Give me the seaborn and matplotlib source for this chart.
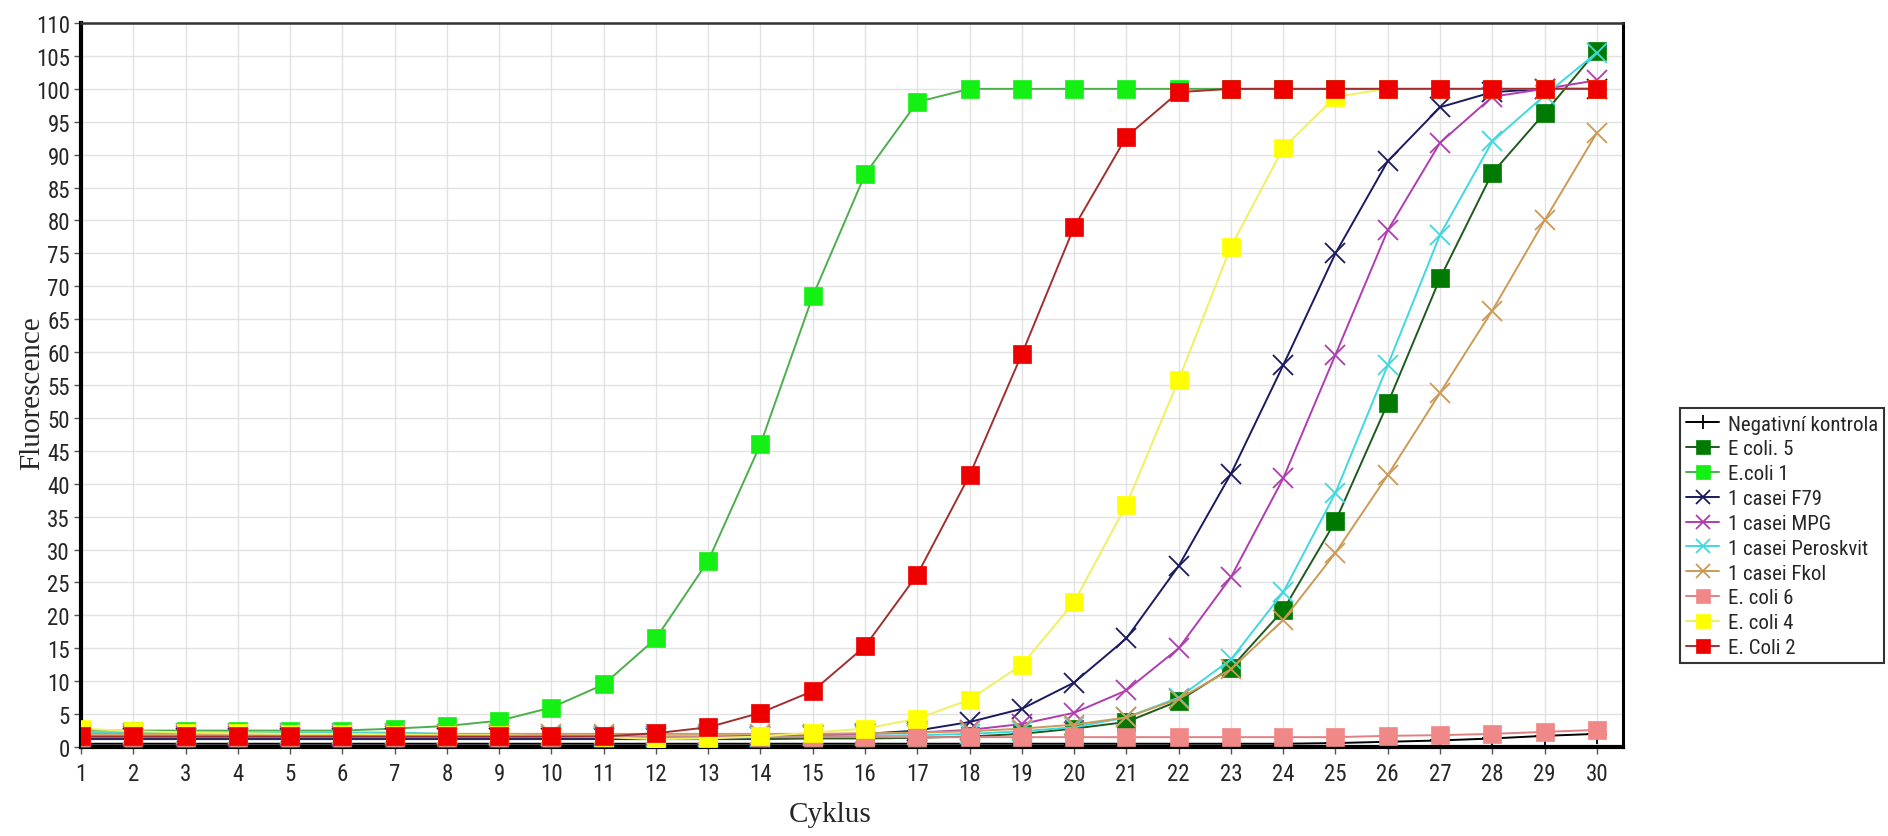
import numpy as np
import pandas as pd
import seaborn as sns
import matplotlib
matplotlib.use('Agg')
import matplotlib.pyplot as plt
from matplotlib import font_manager

sns.set_style('white')

# uzke pismo jako v originalu, pokud je k dispozici
dostupne = {f.name for f in font_manager.fontManager.ttflist}
uzke = [n for n in ['Liberation Sans Narrow', 'Roboto Condensed', 'Open Sans Condensed'] if n in dostupne]
if uzke:
    plt.rcParams['font.family'] = [uzke[0], 'DejaVu Sans']
    vel_ticku, vel_legendy = 16.5, 15
else:
    plt.rcParams['font.family'] = ['Liberation Sans', 'DejaVu Sans']
    vel_ticku, vel_legendy = 14.5, 12.5

cyklus = list(range(1, 31))

negativni = [0.5, 0.5, 0.5, 0.5, 0.5, 0.5, 0.5, 0.5, 0.5, 0.5, 0.5, 0.5, 0.5, 0.5, 0.5,
             0.5, 0.5, 0.5, 0.5, 0.5, 0.5, 0.5, 0.5, 0.5, 0.6, 0.8, 1.0, 1.3, 1.7, 2.0]
ecoli5 = [1.2, 1.2, 1.2, 1.2, 1.2, 1.2, 1.2, 1.2, 1.2, 1.2, 1.2, 1.2, 1.2, 1.2, 1.3,
          1.3, 1.4, 1.6, 2.0, 2.8, 3.8, 7.0, 12.0, 20.8, 34.3, 52.2, 71.2, 87.2, 96.3, 105.8]
ecoli1 = [2.5, 2.5, 2.5, 2.5, 2.5, 2.5, 2.8, 3.2, 4.0, 6.0, 9.5, 16.5, 28.3, 46.0, 68.5,
          87.0, 98.0, 100, 100, 100, 100, 100, 100, 100, 100, 100, 100, 100, 100, 100]
casei_f79 = [1.3, 1.3, 1.3, 1.3, 1.3, 1.3, 1.3, 1.3, 1.3, 1.3, 1.3, 1.3, 1.4, 1.5, 1.7,
             2.0, 2.5, 3.8, 5.8, 9.8, 16.5, 27.5, 41.5, 58.0, 75.0, 89.0, 97.2, 99.5, 100, 100]
casei_mpg = [1.6, 1.6, 1.6, 1.6, 1.6, 1.6, 1.6, 1.6, 1.6, 1.6, 1.6, 1.6, 1.6, 1.7, 1.8,
             2.0, 2.2, 2.6, 3.5, 5.2, 8.6, 15.0, 25.8, 40.8, 59.6, 78.5, 91.8, 98.8, 100, 101.3]
casei_perosk = [2.2, 2.2, 2.2, 2.2, 2.2, 2.2, 2.2, 2.0, 1.8, 1.6, 1.5, 1.5, 1.5, 1.5, 1.6,
                1.7, 1.8, 2.0, 2.4, 3.0, 4.5, 7.5, 13.3, 23.5, 38.6, 58.0, 77.8, 92.0, 99.0, 105.5]
casei_fkol = [2.0, 2.0, 2.0, 2.0, 2.0, 2.0, 2.0, 2.0, 2.0, 2.0, 2.0, 2.0, 2.0, 2.0, 2.0,
              2.1, 2.2, 2.4, 2.8, 3.4, 4.5, 7.3, 11.8, 19.3, 29.5, 41.3, 53.8, 66.3, 80.0, 93.3]
ecoli6 = [1.5, 1.5, 1.5, 1.5, 1.5, 1.5, 1.5, 1.5, 1.5, 1.5, 1.5, 1.5, 1.5, 1.5, 1.5,
          1.5, 1.5, 1.5, 1.5, 1.5, 1.5, 1.5, 1.5, 1.5, 1.5, 1.7, 1.8, 2.0, 2.3, 2.6]
ecoli4 = [2.8, 2.4, 2.2, 2.1, 2.0, 2.0, 1.9, 1.8, 1.8, 1.6, 1.5, 1.2, 1.3, 1.6, 2.2,
          2.8, 4.3, 7.2, 12.5, 22.0, 36.8, 55.8, 76.0, 91.0, 98.8, 100, 100, 100, 100, 100]
ecoli2 = [1.6, 1.6, 1.6, 1.6, 1.6, 1.6, 1.6, 1.6, 1.6, 1.6, 1.6, 2.1, 3.0, 5.2, 8.5,
          15.3, 26.2, 41.3, 59.7, 79.0, 92.7, 99.5, 100, 100, 100, 100, 100, 100, 100, 100]

serie = [
    ('Negativní kontrola', negativni, '#000000', '#000000', '+'),
    ('E coli. 5', ecoli5, '#1e5a1e', '#007a00', 's'),
    ('E.coli 1', ecoli1, '#4caf4c', '#14f014', 's'),
    ('1 casei F79', casei_f79, '#1a1a60', '#1a1a60', 'x'),
    ('1 casei MPG', casei_mpg, '#b03cb0', '#b03cb0', 'x'),
    ('1 casei Peroskvit', casei_perosk, '#40d8e0', '#40d8e0', 'x'),
    ('1 casei Fkol', casei_fkol, '#cc9a55', '#cc9a55', 'x'),
    ('E. coli 6', ecoli6, '#e08080', '#f08888', 's'),
    ('E. coli 4', ecoli4, '#f0f060', '#ffff00', 's'),
    ('E. Coli 2', ecoli2, '#a03030', '#ee0000', 's'),
]

fig = plt.figure(figsize=(18.88, 8.37), dpi=100)
ax = fig.add_axes([0.0429, 0.1063, 0.8167, 0.865])

for i, (nazev, hodnoty, barva_cary, barva_znacky, znacka) in enumerate(serie):
    if znacka == 's':
        kw = dict(marker='s', markersize=13.5, markerfacecolor=barva_znacky,
                  markeredgecolor=barva_znacky, markeredgewidth=0.5)
    elif znacka == 'x':
        kw = dict(marker='x', markersize=15, markeredgecolor=barva_znacky,
                  markeredgewidth=1.3)
    else:
        kw = dict(marker='+', markersize=14, markeredgecolor=barva_znacky,
                  markeredgewidth=1.3)
    sns.lineplot(x=cyklus, y=hodnoty, ax=ax, color=barva_cary, linewidth=1.4,
                 label=nazev, zorder=3 + i, **kw)

ax.set_xlim(1, 30.5)
ax.set_ylim(0, 110)
ax.set_xticks(cyklus)
ax.set_yticks(np.arange(0, 111, 5))
ax.grid(True, color='#e2e2e2', linewidth=1.0)
ax.set_axisbelow(True)
ax.tick_params(axis='both', direction='out', length=5, width=1, color='#555555',
               labelsize=vel_ticku, bottom=True, left=True)
ax.tick_params(axis='x', pad=6)
ax.tick_params(axis='y', pad=3)

for s in ['left', 'bottom']:
    ax.spines[s].set_linewidth(3)
    ax.spines[s].set_color('black')
ax.spines['top'].set_linewidth(1.8)
ax.spines['top'].set_color('#333333')
ax.spines['right'].set_linewidth(2.2)
ax.spines['right'].set_color('black')

ax.set_xlabel('Cyklus', family=['Liberation Serif', 'DejaVu Serif'], fontsize=21)
ax.set_ylabel('Fluorescence', family=['Liberation Serif', 'DejaVu Serif'], fontsize=21)
ax.xaxis.set_label_coords(0.486, -0.075)
ax.yaxis.set_label_coords(-0.023, 0.49)

leg = ax.legend(loc='upper right', bbox_to_anchor=(0.998, 0.511), bbox_transform=fig.transFigure,
                borderaxespad=0, frameon=True, fancybox=False, fontsize=vel_legendy,
                handlelength=1.6, handletextpad=0.4, borderpad=0.3, labelspacing=0.28,
                markerscale=0.7)
leg.get_frame().set_edgecolor('black')
leg.get_frame().set_linewidth(1.5)

fig.savefig('out.png', dpi=100)
